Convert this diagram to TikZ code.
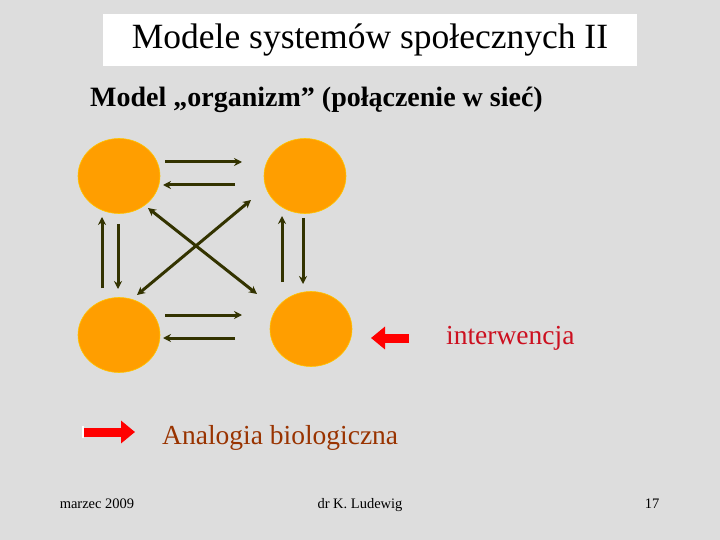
\documentclass[tikz,border=0pt]{standalone}
\usepackage{fontspec}
\setmainfont{Liberation Serif}
\usetikzlibrary{arrows.meta,shapes.geometric}
\definecolor{bg}{HTML}{DDDDDD}
\definecolor{org}{HTML}{FF9E00}
\definecolor{olive}{HTML}{333300}
\definecolor{redt}{HTML}{CC1020}
\definecolor{brownt}{HTML}{993300}
\tikzset{
  cell/.style={ellipse,fill=org,draw=org!60!yellow,line width=0.6pt,minimum width=82pt,minimum height=75pt,inner sep=0pt},
  link/.style={draw=olive,line width=3pt,-{Stealth[length=8pt,width=8pt]}},
  blink/.style={draw=olive,line width=3pt,{Stealth[length=8pt,width=8pt]}-{Stealth[length=8pt,width=8pt]}},
  redarrow/.style={draw=red,line width=9pt,-{Triangle[length=14pt,width=22pt]}},
  lbl/.style={inner sep=0pt,anchor=west},
  foot/.style={inner sep=0pt,anchor=base}
}
\begin{document}
\begin{tikzpicture}[x=1pt,y=-1pt]
\fill[bg] (0,0) rectangle (720,540);
\useasboundingbox (0,0) rectangle (720,540);
\node[fill=white,minimum width=534pt,minimum height=52pt,inner sep=0pt] (title) at (370,40) {\fontsize{35.5}{36}\selectfont Modele systemów społecznych II};
\node[lbl] (sub) at (90,100) {\fontsize{28}{28}\selectfont\bfseries Model „organizm” (połączenie w sieć)};
\node[cell] (tl) at (119,176) {};
\node[cell] (tr) at (305,176) {};
\node[cell] (bl) at (119,335) {};
\node[cell] (br) at (311,329) {};
\coordinate (a1) at (165,162); \coordinate (a2) at (242,162);
\coordinate (a3) at (235,185); \coordinate (a4) at (163,185);
\draw[link] (a1) -- (a2); \draw[link] (a3) -- (a4);
\coordinate (b1) at (165,315); \coordinate (b2) at (242,315);
\coordinate (b3) at (235,338); \coordinate (b4) at (163,338);
\draw[link] (b1) -- (b2); \draw[link] (b3) -- (b4);
\coordinate (c1) at (102,288); \coordinate (c2) at (102,217);
\coordinate (c3) at (118,224); \coordinate (c4) at (118,289);
\draw[link] (c1) -- (c2); \draw[link] (c3) -- (c4);
\coordinate (d1) at (282,282); \coordinate (d2) at (282,216);
\coordinate (d3) at (303,218); \coordinate (d4) at (303,284);
\draw[link] (d1) -- (d2); \draw[link] (d3) -- (d4);
\coordinate (e1) at (148,208); \coordinate (e2) at (257,294);
\coordinate (f1) at (251,200); \coordinate (f2) at (137,295);
\draw[blink] (e1) -- (e2); \draw[blink] (f1) -- (f2);
\coordinate (r1) at (409,338); \coordinate (r2) at (371,338);
\draw[redarrow] (r1) -- (r2);
\node[lbl,text=redt] (int) at (446,338) {\fontsize{27.5}{28}\selectfont interwencja};
\coordinate (g1) at (83,432); \coordinate (g2) at (135,432);
\draw[redarrow] (g1) -- (g2);
\draw[white,line width=1.2pt] (83,426) -- (83,438);
\node[lbl,text=brownt] (ana) at (162,438) {\fontsize{27.5}{28}\selectfont Analogia biologiczna};
\node[foot] (f1n) at (97,508) {\fontsize{14.5}{15}\selectfont marzec 2009};
\node[foot] (f2n) at (360,508) {\fontsize{14.5}{15}\selectfont dr K. Ludewig};
\node[foot] (f3n) at (652,508) {\fontsize{14.5}{15}\selectfont 17};
\end{tikzpicture}
\end{document}
